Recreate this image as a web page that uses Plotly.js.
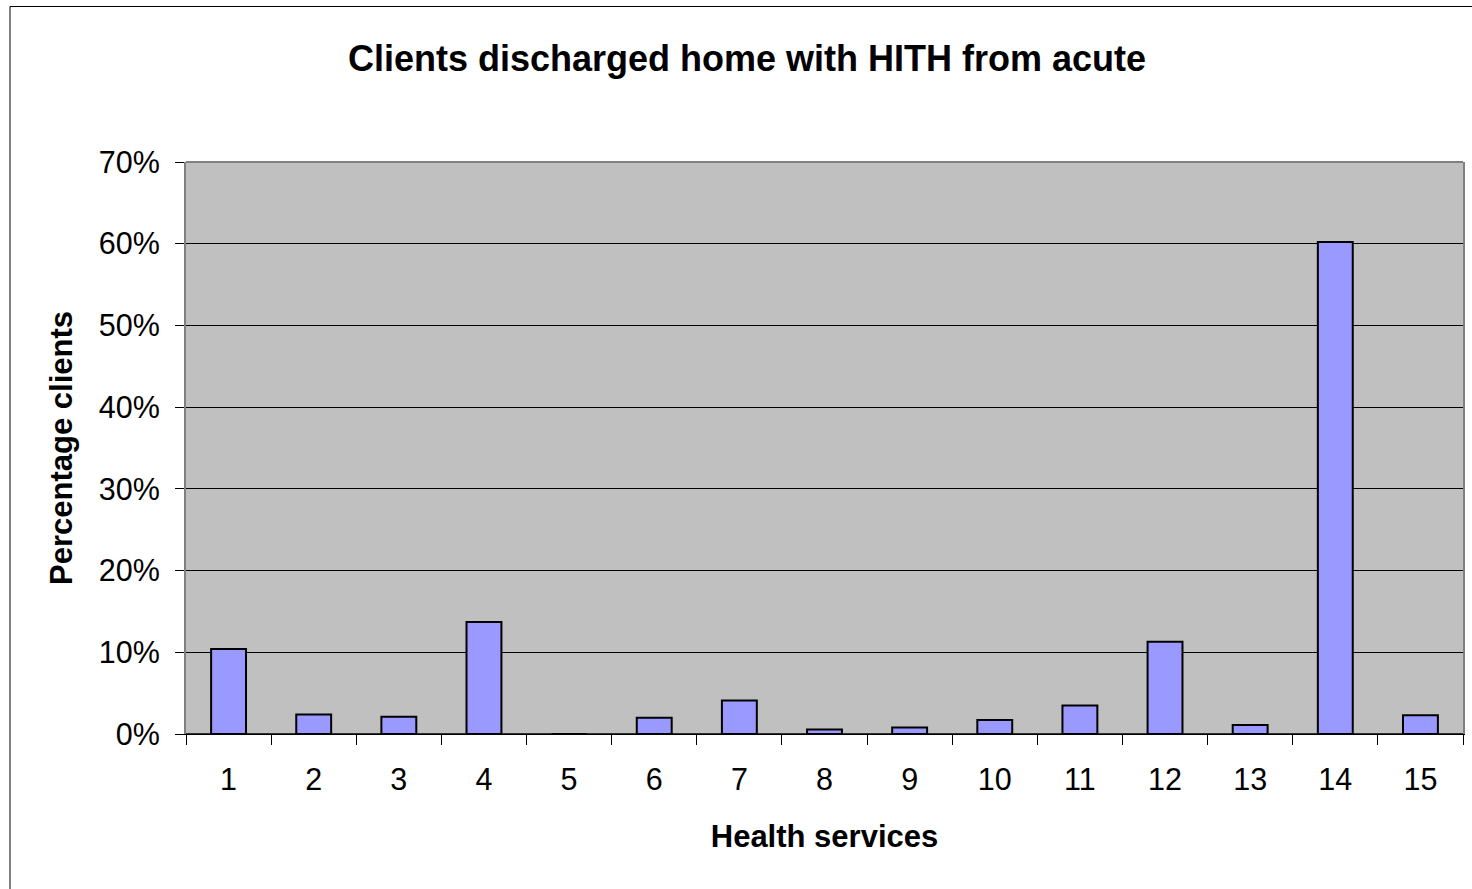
<!DOCTYPE html>
<html>
<head>
<meta charset="utf-8">
<script src="https://cdn.plot.ly/plotly-3.0.1.min.js"></script>
<style>
  html, body { margin: 0; padding: 0; background: #ffffff; }
  #chart { width: 1472px; height: 889px; }
</style>
</head>
<body>
<div id="chart"></div>
<script>
// Data
const services = ["1","2","3","4","5","6","7","8","9","10","11","12","13","14","15"];
const percentClients = [10.4, 2.4, 2.1, 13.7, 0, 2.0, 4.1, 0.55, 0.8, 1.7, 3.5, 11.3, 1.1, 60.2, 2.3];
const yTickValues = [0, 10, 20, 30, 40, 50, 60, 70];
const yTickLabels = ["0%", "10%", "20%", "30%", "40%", "50%", "60%", "70%"];

const chartTitle = "Clients discharged home with HITH from acute";
const xTitle = "Health services";
const yTitle = "Percentage clients";

const W = 1472, H = 889;
const M = { l: 186, r: 9, t: 162, b: 155 };
const pw = W - M.l - M.r, ph = H - M.t - M.b;
const px = v => (v - M.l) / pw;
const py = v => (H - M.b - v) / ph;

const trace = {
  type: "bar",
  x: services,
  y: percentClients,
  width: 0.41,
  marker: { color: "#9999ff", line: { color: "#000000", width: 2 } },
  hoverinfo: "x+y"
};

const layout = {
  width: W, height: H,
  margin: M,
  paper_bgcolor: "#ffffff",
  plot_bgcolor: "#c0c0c0",
  showlegend: false,
  font: { family: "Liberation Sans, Arial, sans-serif", color: "#000000" },
  title: {
    text: "<b>" + chartTitle + "</b>",
    font: { size: 36, color: "#000000" },
    xref: "container", yref: "container",
    x: 0.5075, y: 1 - 58 / H, xanchor: "center", yanchor: "middle"
  },
  xaxis: {
    type: "category",
    tickson: "boundaries",
    ticks: "outside", ticklen: 10, tickwidth: 1, tickcolor: "#000000",
    showline: true, linecolor: "#000000", linewidth: 1,
    showgrid: false,
    tickfont: { size: 30.5 },
    ticklabelstandoff: 18,
    title: { text: "<b>" + xTitle + "</b>", font: { size: 31 }, standoff: 30 }
  },
  yaxis: {
    range: [0, 70],
    tickvals: yTickValues,
    ticktext: yTickLabels,
    ticks: "outside", ticklen: 9, tickwidth: 1, tickcolor: "#000000",
    showline: true, linecolor: "#808080", linewidth: 2, mirror: true,
    showgrid: true, gridcolor: "#000000", gridwidth: 1,
    zeroline: false,
    tickfont: { size: 30.5 },
    ticklabelstandoff: 9,
    title: { text: "<b>" + yTitle + "</b>", font: { size: 31 }, standoff: 17 }
  },
  shapes: [
    { type: "line", xref: "paper", yref: "paper", x0: 0, x1: 1, y0: 1, y1: 1,
      line: { color: "#808080", width: 2 }, layer: "above" },
    { type: "line", xref: "paper", yref: "paper", x0: 0, x1: 1, y0: 0, y1: 0,
      line: { color: "#000000", width: 1.5 }, layer: "above" },
    { type: "rect", xref: "paper", yref: "paper",
      x0: px(10), x1: px(1490), y0: py(900), y1: py(6.5),
      line: { color: "#000000", width: 1 }, fillcolor: "rgba(0,0,0,0)", layer: "below" }
  ]
};

Plotly.newPlot("chart", [trace], layout, { displayModeBar: false, staticPlot: true });
</script>
</body>
</html>
